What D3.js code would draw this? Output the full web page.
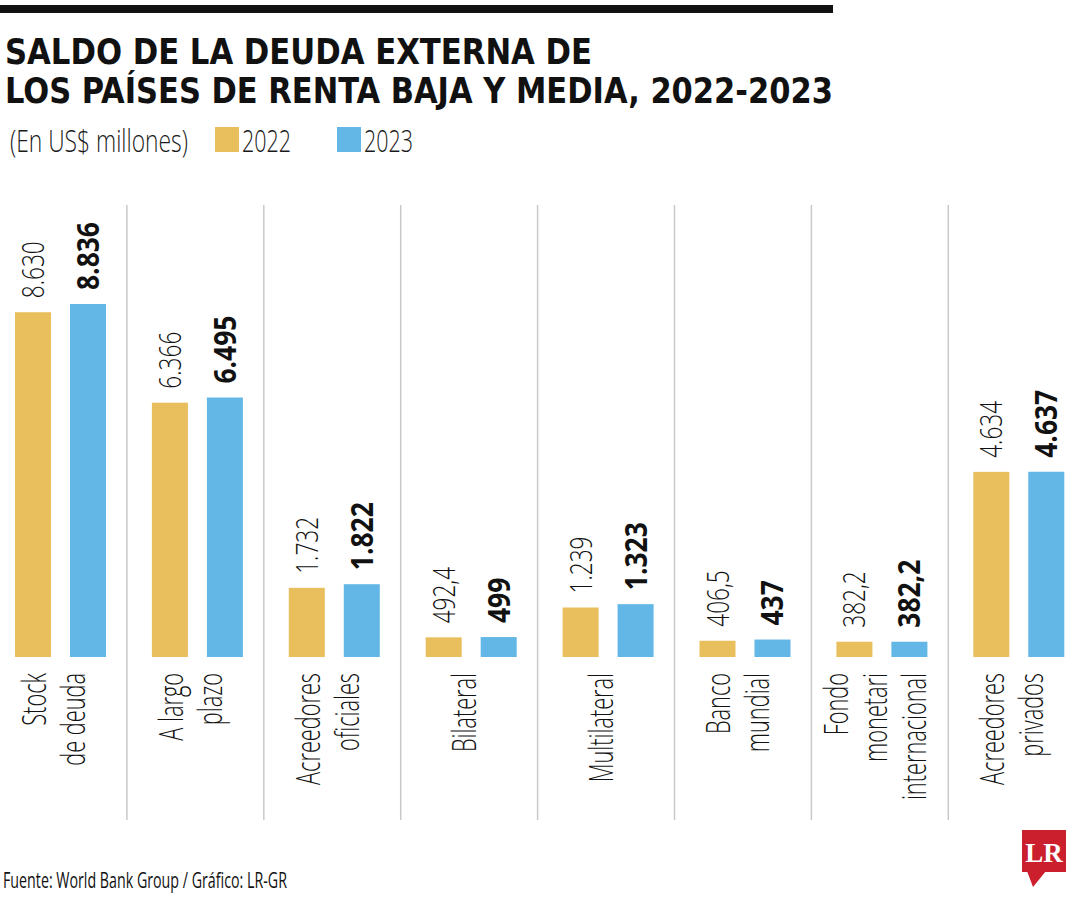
<!DOCTYPE html>
<html><head><meta charset="utf-8">
<script src="https://cdn.jsdelivr.net/npm/d3@7"></script>
<style>
body{margin:0;background:#fff;}
svg{display:block;}
</style></head>
<body><svg id="chart" width="1080" height="900"></svg>
<script>
const categories = [
  ["Stock", "de deuda"],
  ["A largo", "plazo"],
  ["Acreedores", "oficiales"],
  ["Bilateral"],
  ["Multilateral"],
  ["Banco", "mundial"],
  ["Fondo", "monetari", "internacional"],
  ["Acreedores", "privados"]
];
const years = ["2022", "2023"];
const values2022 = [8630, 6366, 1732, 492.4, 1239, 406.5, 382.2, 4634];
const values2023 = [8836, 6495, 1822, 499, 1323, 437, 382.2, 4637];
const colors = {"2022": "#E9BF5D", "2023": "#62B7E6"};

const titleLines = ["SALDO DE LA DEUDA EXTERNA DE", "LOS PAÍSES DE RENTA BAJA Y MEDIA, 2022-2023"];
const unitLabel = "(En US$ millones)";
const source = "Fuente: World Bank Group / Gráfico: LR-GR";

const svg = d3.select("#chart");
const TFONT = '"DejaVu Sans Condensed","DejaVu Sans",sans-serif';
const LFONT = '"Open Sans",Roboto,"DejaVu Sans",sans-serif';

const locale = d3.formatLocale({decimal: ",", thousands: ".", grouping: [3], currency: ["$", ""]});
const fmtInt = locale.format(",d"), fmtDec = locale.format(",.1f");
const fmt = v => Number.isInteger(v) ? fmtInt(v) : fmtDec(v);

function fitFactor(sample, size, weight, target) {
  const t = svg.append("text").attr("font-family", LFONT).attr("font-size", size)
    .attr("font-weight", weight).text(sample);
  const L = t.node().getComputedTextLength();
  t.remove();
  return target / L;
}

// top bar
svg.append("rect").attr("x", 0).attr("y", 5).attr("width", 833).attr("height", 8).attr("fill", "#111");

// title
const titleW = [587, 828];
titleLines.forEach((t, i) => {
  svg.append("text").attr("x", 5).attr("y", 64 + i * 39)
    .attr("font-family", TFONT).attr("font-weight", "bold").attr("font-size", 36)
    .attr("fill", "#111").attr("textLength", titleW[i]).attr("lengthAdjust", "spacingAndGlyphs")
    .text(t);
});

// legend
const kLeg = fitFactor(unitLabel, 32, 300, 178);
svg.append("text").attr("transform", `translate(10,152) scale(${kLeg},1)`)
  .attr("font-family", LFONT).attr("font-size", 32).attr("font-weight", 300)
  .attr("fill", "#1a1a1a").text(unitLabel);
const legX = [215, 337];
const kYear = fitFactor("2022", 32, 300, 49);
years.forEach((yr, i) => {
  svg.append("rect").attr("x", legX[i]).attr("y", 127).attr("width", 24).attr("height", 25).attr("fill", colors[yr]);
  svg.append("text").attr("transform", `translate(${legX[i] + 27},152) scale(${kYear},1)`)
    .attr("font-family", LFONT).attr("font-size", 32).attr("font-weight", 300)
    .attr("fill", "#1a1a1a").text(yr);
});

// scales
const x0 = d3.scaleBand().domain(d3.range(categories.length)).range([-10, 1085.2]).paddingInner(0).paddingOuter(0);
const x1 = d3.scaleBand().domain(years).range([25, 116]).paddingInner(0.345).paddingOuter(0);
const y = d3.scaleLinear().domain([0, 8836]).range([657, 304]);

// separators
d3.range(1, categories.length).forEach(i => {
  svg.append("line").attr("x1", x0(i)).attr("x2", x0(i)).attr("y1", 205).attr("y2", 820)
    .attr("stroke", "#C9C9C9").attr("stroke-width", 1.5);
});

const data = categories.map((c, i) => ({i, lines: c, vals: {"2022": values2022[i], "2023": values2023[i]}}));

const kValLight = fitFactor("8.630", 31, 300, 57);
const kValBold = fitFactor("8.836", 31, 700, 68);
const kCat = fitFactor("Acreedores", 33, 300, 112);

const g = svg.selectAll("g.cat").data(data).join("g").attr("class", "cat")
  .attr("transform", d => `translate(${x0(d.i)},0)`);

years.forEach(yr => {
  const bold = yr === "2023";
  g.append("rect").attr("x", x1(yr)).attr("width", x1.bandwidth())
    .attr("y", d => y(d.vals[yr])).attr("height", d => y(0) - y(d.vals[yr]))
    .attr("fill", colors[yr]);
  g.append("text")
    .attr("transform", d => `translate(${x1(yr) + x1.bandwidth() / 2 + 11},${y(d.vals[yr]) - 14}) rotate(-90) scale(${bold ? kValBold : kValLight},1)`)
    .attr("font-family", LFONT).attr("font-size", 31)
    .attr("font-weight", bold ? 700 : 300)
    .attr("fill", "#111")
    .text(d => fmt(d.vals[yr]));
});

// category labels
const lineGap = 39;
g.each(function(d) {
  const n = d.lines.length;
  const cx = x0.bandwidth() / 2 + 7;
  d3.select(this).selectAll("text.cl").data(d.lines).join("text").attr("class", "cl")
    .attr("transform", (t, j) => `translate(${cx + (j - (n - 1) / 2) * lineGap},673) rotate(-90) scale(${kCat},1)`)
    .attr("text-anchor", "end")
    .attr("font-family", LFONT).attr("font-size", 33).attr("font-weight", 300).attr("fill", "#111")
    .text(t => t);
});

// footer
const kFoot = fitFactor(source, 21, 400, 284);
svg.append("text").attr("transform", `translate(3,888) scale(${kFoot},1)`)
  .attr("font-family", LFONT).attr("font-size", 21).attr("fill", "#111").text(source);

// logo
const logo = svg.append("g");
logo.append("rect").attr("x", 1022).attr("y", 830).attr("width", 44).attr("height", 42).attr("fill", "#CC1F2D");
logo.append("path").attr("d", "M1027,871 L1046,871 L1033,887 Z").attr("fill", "#CC1F2D");
logo.append("text").attr("x", 1044).attr("y", 862).attr("text-anchor", "middle")
  .attr("font-family", '"Liberation Serif","DejaVu Serif",serif').attr("font-weight", "bold")
  .attr("font-size", 27).attr("fill", "#fff").text("LR");
</script></body></html>
